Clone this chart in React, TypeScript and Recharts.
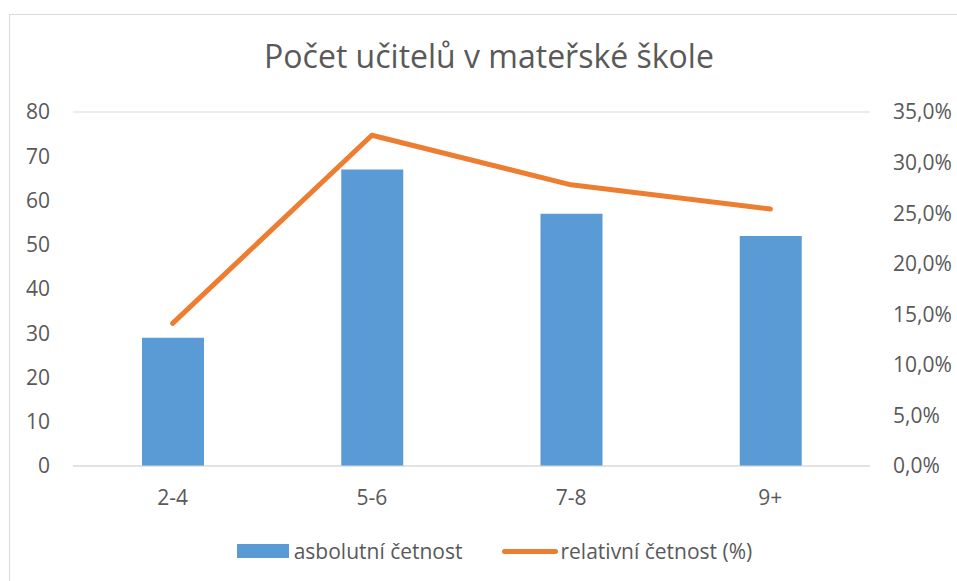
import { ComposedChart, Bar, Line, XAxis, YAxis, CartesianGrid, Legend } from 'recharts';

const categories = ['2-4', '5-6', '7-8', '9+'];
const absolute = [29, 67, 57, 52];
const relative = [14.1, 32.7, 27.8, 25.4];
const leftTicks = [0, 10, 20, 30, 40, 50, 60, 70, 80];
const rightTicks = [0, 5, 10, 15, 20, 25, 30, 35];

const data = categories.map((name, i) => ({ name, abs: absolute[i], rel: relative[i] }));

const font = "'Open Sans', sans-serif";
const textColor = '#595959';
const tick = { fontFamily: font, fontSize: 21, fill: textColor };

const fmtPct = (v: number) => `${v.toFixed(1).replace('.', ',')}%`;

function LegendBox() {
  return (
    <div style={{ display: 'flex', justifyContent: 'center', alignItems: 'center', width: 957, height: 28, paddingLeft: 32, boxSizing: 'border-box', fontFamily: font, fontSize: 21, color: textColor }}>
      <span style={{ display: 'inline-block', width: 52, height: 14, background: '#5B9BD5', marginRight: 5 }} />
      <span>asbolutní četnost</span>
      <span style={{ display: 'inline-block', width: 56, height: 5, borderRadius: 3, background: '#ED7D31', marginLeft: 39, marginRight: 3 }} />
      <span>relativní četnost (%)</span>
    </div>
  );
}

export default function App() {
  return (
    <div style={{ position: 'absolute', left: 0, top: 0, width: 957, height: 581, overflow: 'hidden', background: '#fff' }}>
      <div style={{ position: 'absolute', left: 9, top: 14, width: 1000, height: 700, border: '1px solid #d9d9d9' }} />
      <div style={{ position: 'absolute', left: 0, top: 34, width: 978, textAlign: 'center', fontFamily: font, fontSize: 32, color: textColor }}>
        Počet učitelů v mateřské škole
      </div>
      <div style={{ position: 'absolute', left: 0, top: 0 }}>
        <ComposedChart width={957} height={581} data={data} margin={{ top: 112, right: 7, left: 13, bottom: 0 }}>
          <CartesianGrid vertical={false} stroke="#d9d9d9" />
          <XAxis dataKey="name" tick={tick} tickLine={false} axisLine={{ stroke: '#d9d9d9' }} tickMargin={18} height={87} />
          <YAxis yAxisId="left" domain={[0, 80]} ticks={leftTicks} tick={tick} tickLine={false} axisLine={false} tickMargin={17} width={60} interval={0} />
          <YAxis yAxisId="right" orientation="right" domain={[0, 35]} ticks={rightTicks} tick={{ ...tick, textAnchor: 'start' }} tickFormatter={fmtPct} tickLine={false} axisLine={false} tickMargin={17} width={80} interval={0} />
          <Bar yAxisId="left" dataKey="abs" name="asbolutní četnost" fill="#5B9BD5" barSize={62} isAnimationActive={false} />
          <Line yAxisId="right" dataKey="rel" name="relativní četnost (%)" type="linear" stroke="#ED7D31" strokeWidth={5} strokeLinecap="round" strokeLinejoin="round" dot={false} activeDot={false} isAnimationActive={false} />
          <Legend content={() => <LegendBox />} wrapperStyle={{ position: 'absolute', left: 0, top: 537, bottom: 'auto', width: 957 }} />
        </ComposedChart>
      </div>
    </div>
  );
}
